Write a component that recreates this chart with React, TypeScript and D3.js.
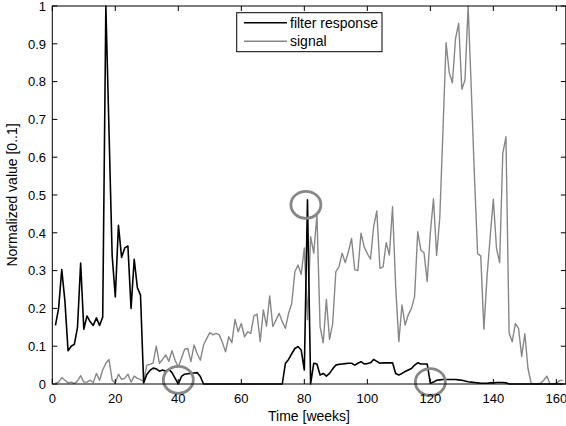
import React from "react";
import * as d3 from "d3";

// Weekly values, week 1..162
const signal: number[] = [
  0.003, 0.005, 0.017, 0.01, 0.003, 0.005, 0.001, 0.008, 0.022, 0.005,
  0.005, 0.01, 0.004, 0.028, 0.01, 0.037, 0.055, 0.065, 0.01, 0.003,
  0.026, 0.012, 0.015, 0.026, 0.005, 0.021, 0.015, 0.012, 0.006, 0.05,
  0.052, 0.055, 0.1, 0.055, 0.065, 0.077, 0.06, 0.088, 0.062, 0.045,
  0.068, 0.092, 0.094, 0.059, 0.103, 0.08, 0.063, 0.103, 0.12, 0.136,
  0.13, 0.134, 0.13, 0.11, 0.085, 0.125, 0.109, 0.171, 0.138, 0.16,
  0.125, 0.138, 0.134, 0.18, 0.185, 0.112, 0.196, 0.153, 0.233, 0.152,
  0.169, 0.187, 0.165, 0.147, 0.187, 0.213, 0.297, 0.315, 0.29, 0.36,
  0.17, 0.39, 0.346, 0.447, 0.152, 0.109, 0.224, 0.118, 0.16, 0.297,
  0.31, 0.346, 0.321, 0.35, 0.385, 0.302, 0.3, 0.399, 0.363, 0.345,
  0.33, 0.416, 0.458, 0.306, 0.31, 0.374, 0.341, 0.469, 0.257, 0.112,
  0.209, 0.156, 0.183, 0.2, 0.231, 0.403, 0.354, 0.347, 0.271, 0.4,
  0.49, 0.34, 0.44, 0.67, 0.903, 0.824, 0.797, 0.914, 0.954, 0.78,
  0.804, 1.0, 0.78, 0.55, 0.345, 0.339, 0.145, 0.284, 0.39, 0.489,
  0.359, 0.321, 0.61, 0.654, 0.135, 0.112, 0.16, 0.147, 0.073, 0.133,
  0.041, 0.002, 0, 0, 0.002, 0.01, 0.021, 0, 0, 0.002,
  0.009, 0.01,
];

const filterResponse: number[] = [
  0.155, 0.2, 0.303, 0.22, 0.088, 0.1, 0.105, 0.15, 0.32, 0.145,
  0.18, 0.165, 0.155, 0.175, 0.155, 0.177, 1.0, 0.67, 0.34, 0.23,
  0.42, 0.335, 0.36, 0.365, 0.2, 0.33, 0.255, 0.235, 0.003, 0.025,
  0.036, 0.042, 0.04, 0.034, 0.037, 0.034, 0.039, 0.03, 0.015, 0.0,
  0.02, 0.026, 0.027, 0.028, 0.029, 0.03, 0.02, 0, 0, 0,
  0, 0, 0, 0, 0, 0, 0, 0, 0, 0,
  0, 0, 0, 0, 0, 0, 0, 0, 0, 0,
  0, 0, 0, 0.055, 0.065, 0.08, 0.094, 0.099, 0.09, 0.037,
  0.487, 0, 0.055, 0.053, 0.024, 0.028, 0.021, 0.028, 0.04, 0.05,
  0.052, 0.053, 0.054, 0.055, 0.055, 0.05, 0.055, 0.059, 0.053, 0.054,
  0.056, 0.065, 0.06, 0.055, 0.056, 0.056, 0.056, 0.056, 0.028, 0.024,
  0.028, 0.033, 0.037, 0.041, 0.05, 0.056, 0.053, 0.053, 0.053, 0.002,
  0.005, 0.01, 0.011, 0.012, 0.012, 0.012, 0.012, 0.012, 0.011, 0.01,
  0.008, 0.006, 0.005, 0.004, 0.003, 0.002, 0.002, 0.002, 0.003, 0.003,
  0.004, 0.004, 0.004, 0.003, 0, 0, 0, 0, 0, 0,
  0, 0, 0, 0, 0, 0, 0, 0, 0, 0,
  0, 0,
];

const xTicks: number[] = [0, 20, 40, 60, 80, 100, 120, 140, 160];
const yTicks: number[] = [0, 0.1, 0.2, 0.3, 0.4, 0.5, 0.6, 0.7, 0.8, 0.9, 1];

// Highlight circles (week, value)
const markWeeks: number[] = [40, 80.5, 120];
const markValues: number[] = [0.011, 0.474, 0.005];

const legendLabels: string[] = ["filter response", "signal"];

const W = 566;
const H = 426;
const M = { left: 52.3, right: 565.8, top: 6, bottom: 384 };
const FONT = "'Liberation Sans', Arial, Helvetica, sans-serif";
const GRAY = "#878787";

export default function App() {
  const x = d3.scaleLinear().domain([0, 163]).range([M.left, M.right]);
  const y = d3.scaleLinear().domain([0, 1]).range([M.bottom, M.top]);

  const line = d3
    .line<number>()
    .x((_, i) => x(i + 1))
    .y((d) => y(d));

  const tl = 5;

  return (
    <svg
      width={W}
      height={H}
      style={{ position: "absolute", left: 0, top: 0, background: "#fff" }}
      fontFamily={FONT}
    >
      <rect x={0} y={0} width={W} height={H} fill="#fff" />
      <defs>
        <clipPath id="plotclip">
          <rect x={M.left} y={M.top - 1} width={M.right - M.left} height={M.bottom - M.top + 2} />
        </clipPath>
      </defs>

      <g clipPath="url(#plotclip)">
        <path d={line(signal) || ""} fill="none" stroke={GRAY} strokeWidth={1.4} strokeLinejoin="round" />
        <path d={line(filterResponse) || ""} fill="none" stroke="#000" strokeWidth={1.6} strokeLinejoin="round" />
      </g>

      {markWeeks.map((w, i) => (
        <ellipse
          key={i}
          cx={x(w)}
          cy={y(markValues[i])}
          rx={15}
          ry={13.5}
          fill="none"
          stroke={GRAY}
          strokeWidth={2.8}
        />
      ))}

      {/* axes box */}
      <rect
        x={M.left}
        y={M.top}
        width={M.right - M.left}
        height={M.bottom - M.top}
        fill="none"
        stroke="#000"
        strokeWidth={1}
      />

      {xTicks.map((t) => (
        <g key={"x" + t}>
          <line x1={x(t)} x2={x(t)} y1={M.bottom} y2={M.bottom - tl} stroke="#000" />
          <line x1={x(t)} x2={x(t)} y1={M.top} y2={M.top + tl} stroke="#000" />
          <text x={x(t)} y={403} fontSize={13} textAnchor="middle" fill="#000">
            {t}
          </text>
        </g>
      ))}

      {yTicks.map((t) => (
        <g key={"y" + t}>
          <line x1={M.left} x2={M.left + tl} y1={y(t)} y2={y(t)} stroke="#000" />
          <line x1={M.right} x2={M.right - tl} y1={y(t)} y2={y(t)} stroke="#000" />
          <text x={46} y={y(t) + 4.7} fontSize={13} textAnchor="end" fill="#000">
            {String(t)}
          </text>
        </g>
      ))}

      <text x={(M.left + M.right) / 2} y={421} fontSize={14} textAnchor="middle" fill="#000">
        Time [weeks]
      </text>
      <text
        transform={`translate(17, ${(M.top + M.bottom) / 2}) rotate(-90)`}
        fontSize={14}
        textAnchor="middle"
        fill="#000"
      >
        Normalized value [0..1]
      </text>

      {/* legend */}
      <rect x={236.7} y={12.7} width={145.3} height={39} fill="#fff" stroke="#000" strokeWidth={1} />
      {legendLabels.map((lab, i) => (
        <g key={lab}>
          <line
            x1={244}
            x2={287}
            y1={22.7 + i * 18.5}
            y2={22.7 + i * 18.5}
            stroke={i === 0 ? "#000" : GRAY}
            strokeWidth={i === 0 ? 1.6 : 1.4}
          />
          <text x={290} y={27.6 + i * 18.5} fontSize={14} fill="#000">
            {lab}
          </text>
        </g>
      ))}
    </svg>
  );
}
